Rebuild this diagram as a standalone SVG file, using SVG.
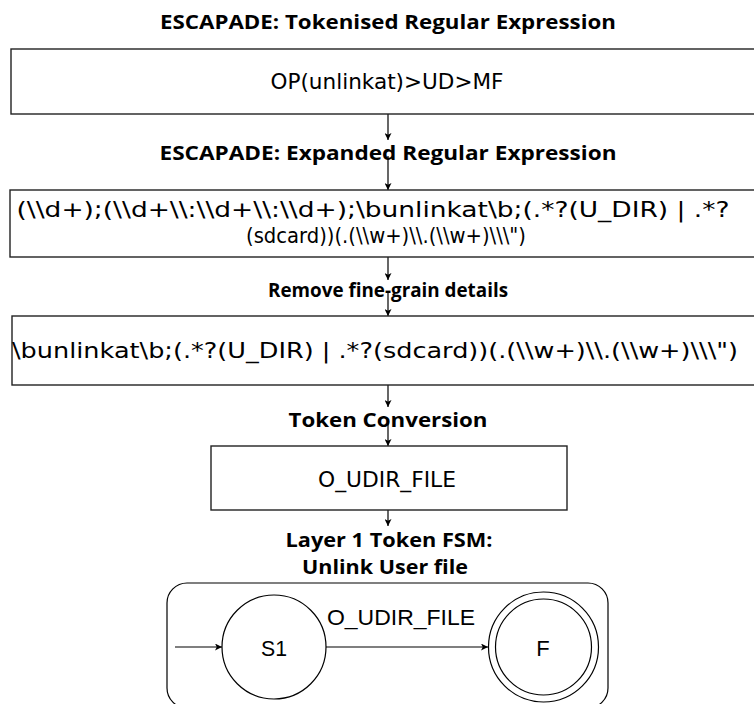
<svg xmlns="http://www.w3.org/2000/svg" width="754" height="704" viewBox="0 0 754 704">
  <style>
    .title { font-family: "Open Sans", "DejaVu Sans", sans-serif; font-weight: bold; font-size: 19px; fill: #000; text-anchor: middle; dominant-baseline: central; }
    .body { font-family: "DejaVu Sans", "Open Sans", sans-serif; font-size: 21px; fill: #000; text-anchor: middle; dominant-baseline: central; }
    .fsm { font-family: "Liberation Sans", Arial, sans-serif; font-size: 22px; fill: #000; text-anchor: middle; dominant-baseline: central; }
    .box { fill: #fff; stroke: #222; stroke-width: 1.4; }
    .state { fill: #fff; stroke: #000; stroke-width: 1.2; }
    .edge { fill: none; stroke: #000; stroke-width: 1.2; }
  </style>
  <defs>
    <marker id="head" viewBox="0 0 10 10" refX="10" refY="5" markerWidth="7" markerHeight="7" markerUnits="userSpaceOnUse" orient="auto">
      <path d="M0,0 L10,5 L0,10 L2.5,5 Z" fill="#000"/>
    </marker>
  </defs>
  <rect width="754" height="704" fill="#fff"/>

  <!-- pipeline stage labels -->
  <text class="title" x="388" y="22" textLength="456" lengthAdjust="spacingAndGlyphs">ESCAPADE: Tokenised Regular Expression</text>
  <text class="title" x="388" y="153" textLength="457" lengthAdjust="spacingAndGlyphs">ESCAPADE: Expanded Regular Expression</text>
  <text class="title" x="388" y="290" textLength="240" lengthAdjust="spacingAndGlyphs">Remove fine-grain details</text>
  <text class="title" x="388" y="420" textLength="199" lengthAdjust="spacingAndGlyphs">Token Conversion</text>
  <text class="title" x="389" y="540" textLength="207" lengthAdjust="spacingAndGlyphs">Layer 1 Token FSM:</text>
  <text class="title" x="385" y="567" textLength="166" lengthAdjust="spacingAndGlyphs">Unlink User file</text>

  <!-- connectors -->
  <g id="connectors">
    <line class="edge" x1="388" y1="114" x2="388" y2="140" marker-end="url(#head)"/>
    <line class="edge" x1="388" y1="156" x2="388" y2="190" marker-end="url(#head)"/>
    <line class="edge" x1="388" y1="257" x2="388" y2="280" marker-end="url(#head)"/>
    <line class="edge" x1="388" y1="292" x2="388" y2="316" marker-end="url(#head)"/>
    <line class="edge" x1="388" y1="385" x2="388" y2="407" marker-end="url(#head)"/>
    <line class="edge" x1="388" y1="423" x2="388" y2="446" marker-end="url(#head)"/>
    <line class="edge" x1="388" y1="510" x2="388" y2="526" marker-end="url(#head)"/>
  </g>

  <g id="tokenised">
    <rect class="box" x="11" y="49" width="760" height="65"/>
    <text class="body" x="387" y="82" textLength="233" lengthAdjust="spacingAndGlyphs">OP(unlinkat)&gt;UD&gt;MF</text>
  </g>

  <g id="expanded">
    <rect class="box" x="10" y="190" width="760" height="67"/>
    <text class="body" x="373" y="210" textLength="713" lengthAdjust="spacingAndGlyphs">(\\d+);(\\d+\\:\\d+\\:\\d+);\bunlinkat\b;(.*?(U_DIR) | .*?</text>
    <text class="body" x="386" y="236" textLength="280" lengthAdjust="spacingAndGlyphs">(sdcard))(.(\\w+)\\.(\\w+)\\\")</text>
  </g>

  <g id="coarse">
    <rect class="box" x="12" y="316" width="760" height="69"/>
    <text class="body" x="375" y="351" textLength="726" lengthAdjust="spacingAndGlyphs">\bunlinkat\b;(.*?(U_DIR) | .*?(sdcard))(.(\\w+)\\.(\\w+)\\\")</text>
  </g>

  <g id="token">
    <rect class="box" x="211" y="446" width="356" height="64"/>
    <text class="body" x="387" y="480" textLength="138" lengthAdjust="spacingAndGlyphs">O_UDIR_FILE</text>
  </g>

  <!-- layer 1 token automaton -->
  <g id="fsm">
    <rect x="167" y="583" width="441" height="125" rx="20" ry="20" fill="#fff" stroke="#000" stroke-width="1.2"/>
    <g id="s1">
      <circle class="state" cx="274" cy="647" r="52"/>
      <text class="fsm" x="274" y="648" textLength="26" lengthAdjust="spacingAndGlyphs">S1</text>
    </g>
    <g id="f">
      <circle class="state" cx="543.5" cy="647" r="55"/>
      <circle class="state" cx="543.5" cy="647" r="48"/>
      <text class="fsm" x="543" y="648">F</text>
    </g>
    <g id="fsm-edges">
      <line class="edge" x1="175" y1="647" x2="222" y2="647" marker-end="url(#head)"/>
      <line class="edge" x1="326" y1="647" x2="488" y2="647" marker-end="url(#head)"/>
      <text class="fsm" x="401" y="617" textLength="148" lengthAdjust="spacingAndGlyphs">O_UDIR_FILE</text>
    </g>
  </g>
</svg>
